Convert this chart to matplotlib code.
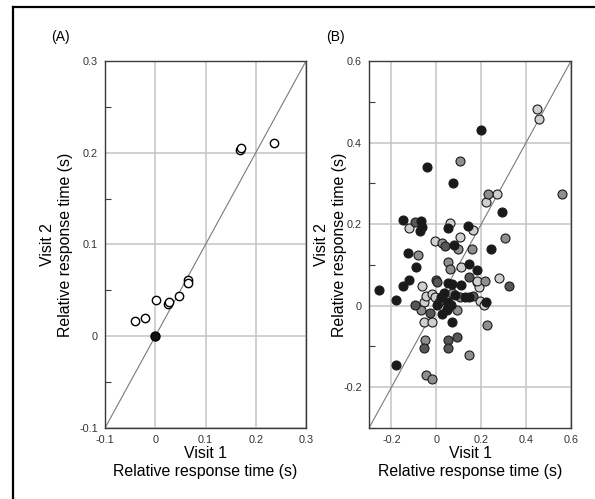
import matplotlib
matplotlib.use("Agg")
import matplotlib.pyplot as plt
from matplotlib.lines import Line2D
from matplotlib.ticker import MultipleLocator

plt.rcParams['font.family'] = ['Liberation Sans', 'DejaVu Sans']

# Panel A: open circles (individual subjects) and the filled reference point
a_x = [-0.040, -0.020, 0.002, 0.025, 0.027, 0.047, 0.066, 0.066, 0.168, 0.170, 0.236]
a_y = [0.017, 0.020, 0.040, 0.035, 0.037, 0.0435, 0.061, 0.058, 0.203, 0.205, 0.211]
a_ref_x = [0.0]
a_ref_y = [0.0]

# Panel B: four groups by shade
b_black_x = [0.200, -0.043, 0.075, 0.292, -0.149, -0.068, -0.065, -0.072, 0.053, 0.142,
             0.080, 0.242, -0.127, 0.145, 0.183, -0.090, -0.121, -0.150, -0.254, -0.180,
             0.050, 0.068, 0.112, 0.001, 0.021, 0.024, 0.046, 0.053, 0.065, 0.127,
             0.146, 0.220, 0.071, -0.179, 0.035, 0.085]
b_black_y = [0.431, 0.339, 0.300, 0.229, 0.211, 0.208, 0.193, 0.184, 0.191, 0.195,
             0.148, 0.140, 0.128, 0.102, 0.087, 0.094, 0.063, 0.047, 0.039, 0.015,
             0.056, 0.053, 0.051, 0.002, 0.020, -0.020, -0.008, 0.008, 0.002, 0.020,
             0.022, 0.010, -0.041, -0.145, 0.030, 0.025]
b_dark_x = [-0.097, 0.038, 0.145, 0.322, -0.003, 0.004, 0.164, -0.094, -0.028, 0.058,
            0.050, 0.050, 0.094, -0.056, 0.012]
b_dark_y = [0.204, 0.147, 0.071, 0.047, 0.063, 0.057, 0.024, 0.002, -0.019, 0.002,
            -0.084, -0.104, -0.076, -0.105, 0.010]
b_mid_x = [0.106, 0.559, 0.230, 0.307, 0.024, 0.097, 0.161, -0.083, 0.050, 0.061,
           0.218, -0.068, 0.094, 0.068, 0.105, 0.226, -0.050, 0.145, -0.045, -0.019,
           0.047]
b_mid_y = [0.354, 0.274, 0.274, 0.166, 0.153, 0.140, 0.140, 0.125, 0.106, 0.090,
           0.060, -0.011, -0.011, 0.030, 0.020, -0.047, -0.084, -0.121, -0.169, -0.181,
           -0.011]
b_light_x = [0.449, 0.456, 0.272, 0.220, -0.120, 0.063, 0.164, -0.006, 0.105, 0.108,
             -0.062, 0.180, 0.190, 0.277, -0.053, -0.047, -0.018, -0.006, 0.193, 0.211,
             -0.053, -0.019, 0.183]
b_light_y = [0.483, 0.457, 0.275, 0.253, 0.190, 0.202, 0.185, 0.159, 0.169, 0.096,
             0.047, 0.057, 0.045, 0.069, 0.008, 0.024, 0.029, 0.020, 0.012, 0.002,
             -0.041, -0.041, 0.060]

fig = plt.figure(figsize=(5.95, 4.99), dpi=100)

ax_a = fig.add_axes([0.1765, 0.1423, 0.3378, 0.7355])
ax_b = fig.add_axes([0.6202, 0.1423, 0.3395, 0.7355])

grid_c = '#c4c4c4'
spine_c = '#3a3a3a'


def style(ax, lo, hi, major, minor, ylab_x):
    ax.set_xlim(lo, hi)
    ax.set_ylim(lo, hi)
    ax.xaxis.set_major_locator(MultipleLocator(major))
    ax.yaxis.set_major_locator(MultipleLocator(major))
    ax.yaxis.set_minor_locator(MultipleLocator(minor))
    ax.grid(True, which='major', color=grid_c, lw=1.1, zorder=0)
    ax.set_axisbelow(True)
    ax.tick_params(which='major', length=0, labelsize=7.8, colors='#333333', pad=5)
    ax.tick_params(axis='x', which='major', pad=5)
    ax.tick_params(axis='y', which='minor', direction='in', length=4, width=0.8,
                   color=spine_c)
    ax.tick_params(axis='x', which='minor', length=0)
    for s in ax.spines.values():
        s.set_color(spine_c)
        s.set_linewidth(1.0)
    ax.plot([lo, hi], [lo, hi], color='#7a7a7a', lw=0.8, zorder=1)
    ax.set_xlabel('Visit 1\nRelative response time (s)', fontsize=11.4,
                  linespacing=1.2, labelpad=1)
    ax.set_ylabel('Visit 2\nRelative response time (s)', fontsize=11.4,
                  linespacing=1.3)
    ax.yaxis.set_label_coords(ylab_x, 0.5)


def fmt(v, pos):
    if abs(v) < 1e-9:
        return '0'
    return f'{v:.1f}'


style(ax_a, -0.1, 0.3, 0.1, 0.05, -0.158)
style(ax_b, -0.3, 0.6, 0.2, 0.1, -0.108)
for ax in (ax_a, ax_b):
    ax.xaxis.set_major_formatter(plt.FuncFormatter(fmt))
    ax.yaxis.set_major_formatter(plt.FuncFormatter(fmt))

ax_a.scatter(a_x, a_y, s=36, facecolor='white', edgecolor='black', lw=1.0, zorder=3)
ax_a.scatter(a_ref_x, a_ref_y, s=42, facecolor='#111111', edgecolor='black', lw=1.0, zorder=3)

kw = dict(s=42, edgecolor='#1a1a1a', lw=0.8, zorder=3)
ax_b.scatter(b_light_x, b_light_y, facecolor='#cfcfcf', **kw)
ax_b.scatter(b_mid_x, b_mid_y, facecolor='#8f8f8f', **kw)
ax_b.scatter(b_dark_x, b_dark_y, facecolor='#575757', **kw)
ax_b.scatter(b_black_x, b_black_y, facecolor='#1a1a1a', **kw)

fig.text(0.086, 0.925, '(A)', fontsize=10, ha='left', va='center')
fig.text(0.548, 0.925, '(B)', fontsize=10, ha='left', va='center')

# outer frame (left and top edges)
fig.add_artist(Line2D([0.022, 0.022], [0.0, 0.986], color='black', lw=1.6,
                      transform=fig.transFigure))
fig.add_artist(Line2D([0.022, 1.0], [0.986, 0.986], color='black', lw=1.6,
                      transform=fig.transFigure))

fig.savefig('out.png', dpi=100)
